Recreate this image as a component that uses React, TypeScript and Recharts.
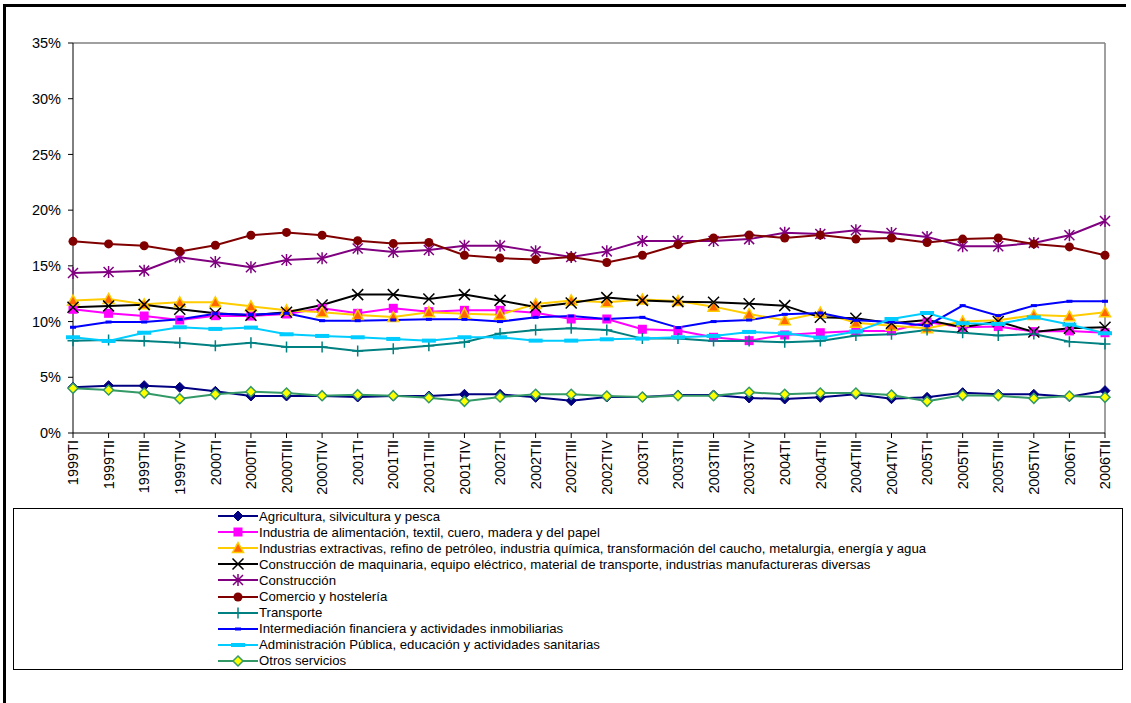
import React from 'react';
import { LineChart, Line, XAxis, YAxis, ReferenceLine } from 'recharts';

const FONT = '"Liberation Sans", Arial, sans-serif';

// Quarters on the category axis
const quarters = [
    '1999TI', '1999TII', '1999TIII', '1999TIV',
    '2000TI', '2000TII', '2000TIII', '2000TIV',
    '2001TI', '2001TII', '2001TIII', '2001TIV',
    '2002TI', '2002TII', '2002TIII', '2002TIV',
    '2003TI', '2003TII', '2003TIII', '2003TIV',
    '2004TI', '2004TII', '2004TIII', '2004TIV',
    '2005TI', '2005TII', '2005TIII', '2005TIV',
    '2006TI', '2006TII'
];

const yTicks = [0, 5, 10, 15, 20, 25, 30, 35];

// Share by sector (%)
const agricultura = [4.1, 4.25, 4.25, 4.1, 3.74, 3.32, 3.32, 3.32, 3.23, 3.32, 3.32, 3.47, 3.47, 3.2, 2.9, 3.23, 3.23, 3.41, 3.41, 3.14, 3.05, 3.2, 3.47, 3.08, 3.2, 3.62, 3.47, 3.47, 3.26, 3.8];
const alimentacion = [11.1, 10.74, 10.5, 10.14, 10.53, 10.5, 10.68, 11.19, 10.74, 11.19, 10.89, 11.01, 11.01, 10.8, 10.23, 10.23, 9.31, 9.19, 8.59, 8.29, 8.8, 9.0, 9.16, 9.16, 9.96, 9.49, 9.55, 9.1, 9.16, 9.0];
const extractivas = [11.88, 12.03, 11.55, 11.73, 11.73, 11.37, 11.01, 10.83, 10.59, 10.41, 10.83, 10.71, 10.62, 11.58, 11.9, 11.73, 11.97, 11.85, 11.34, 10.68, 10.11, 10.8, 9.9, 9.63, 9.4, 10.0, 10.11, 10.59, 10.47, 10.83];
const maquinaria = [11.28, 11.4, 11.52, 11.1, 10.74, 10.56, 10.83, 11.49, 12.42, 12.42, 12.03, 12.42, 11.9, 11.3, 11.67, 12.15, 11.9, 11.79, 11.73, 11.6, 11.43, 10.38, 10.3, 9.85, 10.14, 9.49, 10.0, 9.07, 9.4, 9.49];
const construccion = [14.36, 14.45, 14.57, 15.77, 15.35, 14.87, 15.53, 15.68, 16.55, 16.25, 16.43, 16.8, 16.8, 16.3, 15.8, 16.3, 17.23, 17.23, 17.23, 17.4, 17.98, 17.86, 18.2, 17.95, 17.6, 16.76, 16.76, 17.06, 17.75, 19.03];
const comercio = [17.2, 16.97, 16.8, 16.3, 16.85, 17.75, 18.0, 17.75, 17.26, 17.0, 17.1, 15.95, 15.7, 15.56, 15.8, 15.3, 15.95, 16.9, 17.5, 17.77, 17.5, 17.77, 17.4, 17.5, 17.1, 17.4, 17.5, 16.97, 16.7, 15.95];
const transporte = [8.29, 8.35, 8.26, 8.11, 7.84, 8.11, 7.72, 7.72, 7.36, 7.57, 7.84, 8.14, 8.92, 9.25, 9.4, 9.25, 8.47, 8.47, 8.26, 8.26, 8.14, 8.26, 8.74, 8.86, 9.25, 9.0, 8.74, 8.89, 8.2, 7.99];
const intermediacion = [9.49, 9.96, 9.96, 10.2, 10.71, 10.62, 10.74, 10.08, 10.08, 10.14, 10.2, 10.2, 10.0, 10.38, 10.5, 10.23, 10.38, 9.46, 10.0, 10.14, 10.65, 10.77, 10.11, 9.96, 9.63, 11.43, 10.53, 11.43, 11.82, 11.82];
const administracion = [8.59, 8.26, 9.0, 9.49, 9.34, 9.46, 8.86, 8.71, 8.59, 8.44, 8.29, 8.59, 8.59, 8.29, 8.29, 8.41, 8.47, 8.59, 8.71, 9.07, 8.95, 8.56, 9.1, 10.23, 10.77, 9.85, 9.79, 10.38, 9.73, 8.95];
const otros = [4.01, 3.86, 3.59, 3.08, 3.47, 3.71, 3.59, 3.35, 3.44, 3.35, 3.17, 2.84, 3.23, 3.47, 3.47, 3.32, 3.23, 3.35, 3.35, 3.65, 3.47, 3.59, 3.59, 3.41, 2.84, 3.38, 3.35, 3.11, 3.32, 3.2];

type Shape = 'diamond' | 'square' | 'triangle' | 'x' | 'star' | 'circle' | 'plus' | 'dash' | 'wideDash';

interface SeriesDef {
    key: string;
    name: string;
    values: number[];
    color: string;
    shape: Shape;
    fill: string;
    edge?: string;
}

const series: SeriesDef[] = [
    { key: 'agr', name: 'Agricultura, silvicultura y pesca', values: agricultura, color: '#000080', shape: 'diamond', fill: '#000080' },
    { key: 'ali', name: 'Industria de alimentación, textil, cuero, madera y del papel', values: alimentacion, color: '#FF00FF', shape: 'square', fill: '#FF00FF' },
    { key: 'ext', name: 'Industrias extractivas, refino de petróleo, industria química, transformación del caucho, metalurgia, energía y agua', values: extractivas, color: '#FFCC00', shape: 'triangle', fill: '#FF6600', edge: '#FFCC00' },
    { key: 'maq', name: 'Construcción de maquinaria, equipo eléctrico, material de transporte, industrias manufactureras diversas', values: maquinaria, color: '#000000', shape: 'x', fill: '#000000' },
    { key: 'con', name: 'Construcción', values: construccion, color: '#800080', shape: 'star', fill: '#800080' },
    { key: 'com', name: 'Comercio y hostelería', values: comercio, color: '#800000', shape: 'circle', fill: '#800000' },
    { key: 'tra', name: 'Transporte', values: transporte, color: '#008080', shape: 'plus', fill: '#008080' },
    { key: 'int', name: 'Intermediación financiera y actividades inmobiliarias', values: intermediacion, color: '#0000FF', shape: 'dash', fill: '#0000FF' },
    { key: 'adm', name: 'Administración Pública, educación y actividades sanitarias', values: administracion, color: '#00CCFF', shape: 'wideDash', fill: '#00CCFF' },
    { key: 'otr', name: 'Otros servicios', values: otros, color: '#339966', shape: 'diamond', fill: '#FFFF00', edge: '#339966' }
];

const chartData = quarters.map((q, i) => {
    const row: Record<string, string | number> = { q };
    series.forEach(s => { row[s.key] = s.values[i]; });
    return row;
});

// marker glyph centred on (cx, cy)
function Marker({ s, cx, cy }: { s: SeriesDef; cx: number; cy: number }) {
    const t = `translate(${cx},${cy})`;
    switch (s.shape) {
        case 'diamond':
            return <path transform={t} d="M0,-5 L5,0 L0,5 L-5,0 Z" fill={s.fill} stroke={s.edge || s.fill} strokeWidth={s.edge ? 1.5 : 1} />;
        case 'square':
            return <rect x={cx - 4.5} y={cy - 4.5} width={9} height={9} fill={s.fill} />;
        case 'triangle':
            return <path transform={t} d="M0,-5.5 L5.5,4.5 L-5.5,4.5 Z" fill={s.fill} stroke={s.edge} strokeWidth={1.5} />;
        case 'x':
            return <path transform={t} d="M-5.5,-5.5 L5.5,5.5 M-5.5,5.5 L5.5,-5.5" stroke={s.fill} strokeWidth={1.5} fill="none" />;
        case 'star':
            return <path transform={t} d="M-5,-5 L5,5 M-5,5 L5,-5 M0,-6 L0,6" stroke={s.fill} strokeWidth={1.5} fill="none" />;
        case 'circle':
            return <circle cx={cx} cy={cy} r={4.5} fill={s.fill} />;
        case 'plus':
            return <path transform={t} d="M-5.5,0 L5.5,0 M0,-5.5 L0,5.5" stroke={s.fill} strokeWidth={1.5} fill="none" />;
        case 'dash':
            return <rect x={cx - 3} y={cy - 1.5} width={6} height={3} fill={s.fill} />;
        case 'wideDash':
            return <rect x={cx - 7} y={cy - 2} width={14} height={4} fill={s.fill} />;
    }
    return null;
}

const makeDot = (s: SeriesDef) => (props: any) => {
    const { cx, cy, index } = props;
    return <g key={`${s.key}-${index}`}><Marker s={s} cx={cx} cy={cy} /></g>;
};

// quarter labels, rotated to read bottom-up
const QuarterTick = (props: any) => {
    const { x, y, payload } = props;
    return (
        <text
            x={x}
            y={y}
            transform={`rotate(-90, ${x}, ${y})`}
            dy="0.36em"
            textAnchor="end"
            fontSize={14.5}
            fontFamily={FONT}
            fill="#000"
        >
            {payload.value}
        </text>
    );
};

function LegendBox() {
    return (
        <div style={{
            position: 'absolute', left: 13, top: 508, width: 1110, height: 162,
            border: '1px solid #000', boxSizing: 'border-box', fontFamily: FONT, fontSize: 13.2
        }}>
            {series.map((s, i) => (
                <div key={s.key} style={{ position: 'absolute', left: 203, top: -1 + i * 16.1, height: 16, display: 'flex', alignItems: 'center', whiteSpace: 'nowrap' }}>
                    <svg width={42} height={16} style={{ display: 'block' }}>
                        <line x1={1} y1={8} x2={41} y2={8} stroke={s.color} strokeWidth={2} />
                        <Marker s={s} cx={21} cy={8} />
                    </svg>
                    <span>{s.name}</span>
                </div>
            ))}
        </div>
    );
}

export default function App() {
    return (
        <div style={{ position: 'absolute', left: 0, top: 0, width: 1131, height: 703, background: '#fff', overflow: 'hidden' }}>
            <div style={{ position: 'absolute', left: 3, top: 4, width: 1120, height: 720, borderLeft: '3px solid #000', borderTop: '3px solid #000' }} />
            <div style={{ position: 'absolute', left: 0, top: 0 }}>
                <LineChart width={1131} height={520} data={chartData} margin={{ top: 43, right: 26, bottom: 0, left: 0 }}>
                    <XAxis
                        dataKey="q"
                        interval={0}
                        height={87}
                        tickSize={5}
                        tickMargin={2}
                        axisLine={{ stroke: '#000' }}
                        tickLine={{ stroke: '#000' }}
                        tick={<QuarterTick />}
                    />
                    <YAxis
                        domain={[0, 35]}
                        ticks={yTicks}
                        width={73}
                        tickSize={5}
                        tickMargin={7}
                        tickFormatter={(v) => `${v}%`}
                        axisLine={{ stroke: '#000' }}
                        tickLine={{ stroke: '#000' }}
                        tick={{ fontSize: 14.5, fill: '#000', fontFamily: FONT }}
                    />
                    <ReferenceLine y={35} stroke="#808080" strokeWidth={1.5} />
                    <ReferenceLine x="2006TII" stroke="#808080" strokeWidth={1.5} />
                    {series.map(s => (
                        <Line
                            key={s.key}
                            type="linear"
                            dataKey={s.key}
                            name={s.name}
                            stroke={s.color}
                            strokeWidth={2}
                            dot={makeDot(s)}
                            activeDot={false}
                            isAnimationActive={false}
                        />
                    ))}
                </LineChart>
            </div>
            <LegendBox />
        </div>
    );
}
